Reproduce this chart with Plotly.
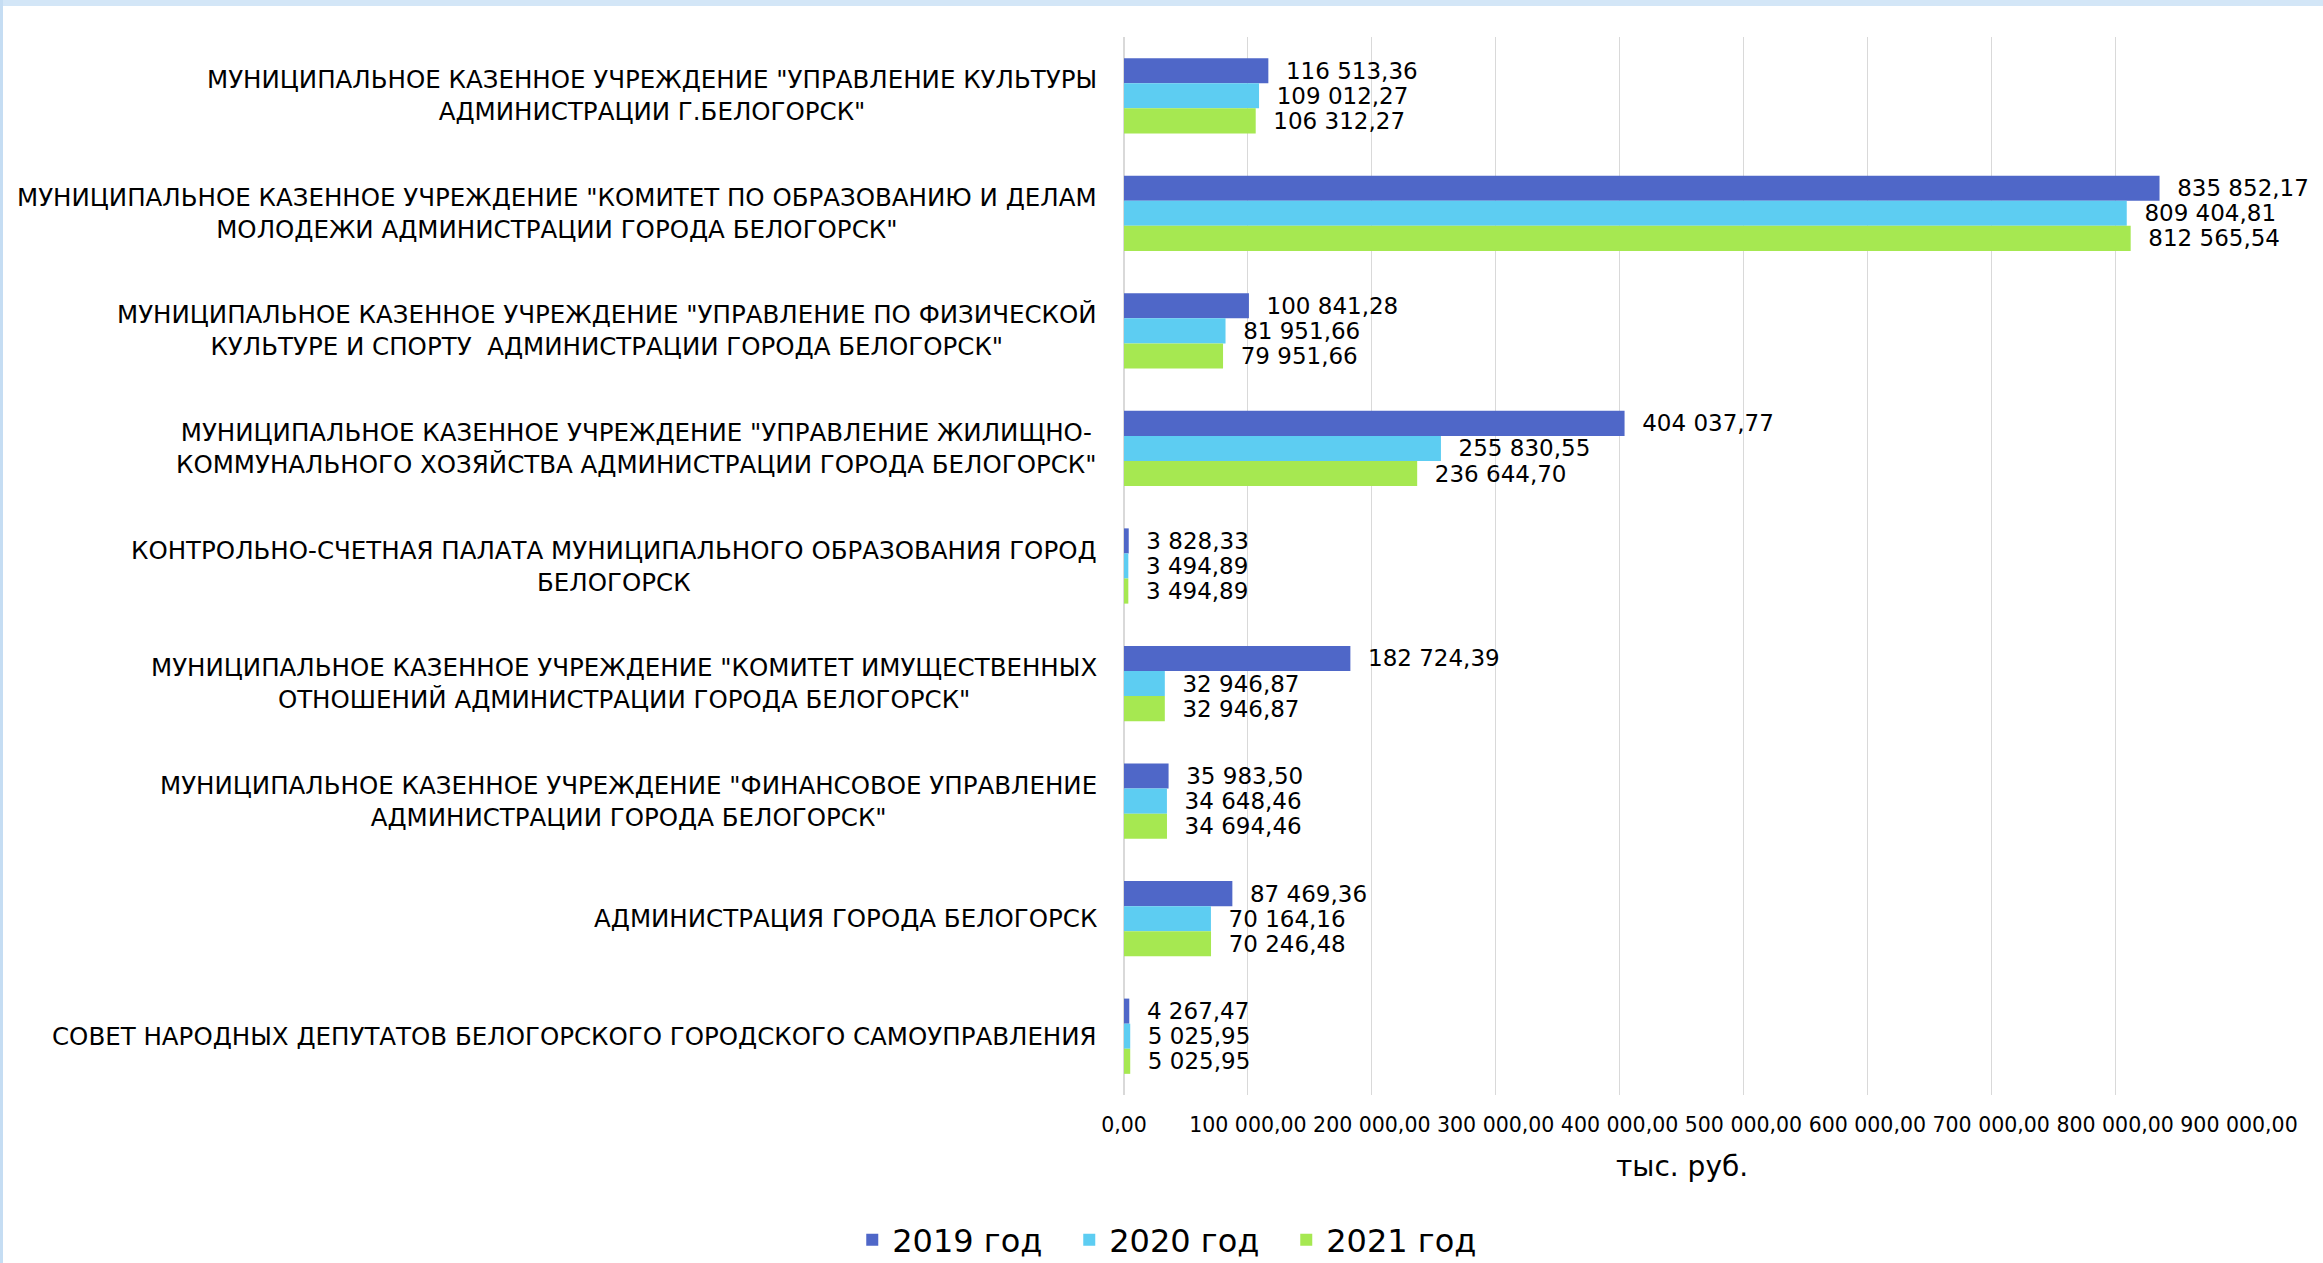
import plotly.graph_objects as go

categories = [
    'МУНИЦИПАЛЬНОЕ КАЗЕННОЕ УЧРЕЖДЕНИЕ "УПРАВЛЕНИЕ КУЛЬТУРЫ<br>АДМИНИСТРАЦИИ Г.БЕЛОГОРСК"',
    'МУНИЦИПАЛЬНОЕ КАЗЕННОЕ УЧРЕЖДЕНИЕ "КОМИТЕТ ПО ОБРАЗОВАНИЮ И ДЕЛАМ<br>МОЛОДЕЖИ АДМИНИСТРАЦИИ ГОРОДА БЕЛОГОРСК"',
    'МУНИЦИПАЛЬНОЕ КАЗЕННОЕ УЧРЕЖДЕНИЕ "УПРАВЛЕНИЕ ПО ФИЗИЧЕСКОЙ<br>КУЛЬТУРЕ И СПОРТУ  АДМИНИСТРАЦИИ ГОРОДА БЕЛОГОРСК"',
    'МУНИЦИПАЛЬНОЕ КАЗЕННОЕ УЧРЕЖДЕНИЕ "УПРАВЛЕНИЕ ЖИЛИЩНО-<br>КОММУНАЛЬНОГО ХОЗЯЙСТВА АДМИНИСТРАЦИИ ГОРОДА БЕЛОГОРСК"',
    'КОНТРОЛЬНО-СЧЕТНАЯ ПАЛАТА МУНИЦИПАЛЬНОГО ОБРАЗОВАНИЯ ГОРОД<br>БЕЛОГОРСК',
    'МУНИЦИПАЛЬНОЕ КАЗЕННОЕ УЧРЕЖДЕНИЕ "КОМИТЕТ ИМУЩЕСТВЕННЫХ<br>ОТНОШЕНИЙ АДМИНИСТРАЦИИ ГОРОДА БЕЛОГОРСК"',
    'МУНИЦИПАЛЬНОЕ КАЗЕННОЕ УЧРЕЖДЕНИЕ "ФИНАНСОВОЕ УПРАВЛЕНИЕ<br>АДМИНИСТРАЦИИ ГОРОДА БЕЛОГОРСК"',
    'АДМИНИСТРАЦИЯ ГОРОДА БЕЛОГОРСК',
    'СОВЕТ НАРОДНЫХ ДЕПУТАТОВ БЕЛОГОРСКОГО ГОРОДСКОГО САМОУПРАВЛЕНИЯ',
]

values_2019 = [116513.36, 835852.17, 100841.28, 404037.77, 3828.33, 182724.39, 35983.50, 87469.36, 4267.47]
values_2020 = [109012.27, 809404.81, 81951.66, 255830.55, 3494.89, 32946.87, 34648.46, 70164.16, 5025.95]
values_2021 = [106312.27, 812565.54, 79951.66, 236644.70, 3494.89, 32946.87, 34694.46, 70246.48, 5025.95]

series_names = ["2019 год", "2020 год", "2021 год"]
tick_values = [0, 100000, 200000, 300000, 400000, 500000, 600000, 700000, 800000, 900000]

colors = ["#4F67C8", "#5DCDF2", "#A6E851"]
FONT = "DejaVu Sans, sans-serif"


def fmt(v):
    s = f"{v:,.2f}"
    return s.replace(",", " ").replace(".", ",")


W, H = 2323, 1263
L, R, T, B = 1124, 84, 37, 168
plot_w = W - L - R
plot_h = H - T - B

fig = go.Figure()
for name, vals, col in zip(series_names, [values_2019, values_2020, values_2021], colors):
    fig.add_trace(go.Bar(
        y=categories, x=vals, name=name, orientation="h",
        marker=dict(color=col, line=dict(width=0)),
        text=["\u00a0\u00a0" + fmt(v) for v in vals], textposition="outside",
        textfont=dict(size=23, color="#000000", family=FONT),
        constraintext="none", cliponaxis=False,
    ))

annotations = []
for c in categories:
    annotations.append(dict(
        x=-(25 / plot_w), xref="paper", y=c, yref="y",
        text=c, showarrow=False, xanchor="right", yanchor="middle", align="center",
        font=dict(size=24.5, color="#000000", family=FONT),
    ))
annotations.append(dict(
    x=0.5, xref="paper", y=-(1166 - (H - B)) / plot_h, yref="paper",
    text="тыс. руб.", showarrow=False, xanchor="center", yanchor="middle",
    font=dict(size=28, color="#000000", family=FONT),
))

fig.update_layout(
    width=W, height=H,
    margin=dict(l=L, r=R, t=T, b=B),
    paper_bgcolor="white", plot_bgcolor="white",
    barmode="group", bargap=0.36, bargroupgap=0,
    font=dict(family=FONT, color="#000000"),
    showlegend=True,
    legend=dict(orientation="h", x=0.507, xanchor="center", xref="container",
                y=1 - 1240 / H, yref="container", yanchor="middle",
                font=dict(size=32, family=FONT, color="#000000"),
                traceorder="normal", itemwidth=30,
                entrywidth=172, entrywidthmode="pixels"),
    annotations=annotations,
    shapes=[
        dict(type="rect", xref="paper", yref="paper", x0=-L / plot_w, x1=1 + R / plot_w,
             y0=1 + (T - 6) / plot_h, y1=1 + T / plot_h, fillcolor="#D3E6F7", line=dict(width=0), layer="below"),
        dict(type="rect", xref="paper", yref="paper", x0=-L / plot_w, x1=-(L - 3) / plot_w,
             y0=-B / plot_h, y1=1 + T / plot_h, fillcolor="#C5DDF3", line=dict(width=0), layer="below"),
    ],
)
fig.update_xaxes(
    range=[0, 900000], tickvals=tick_values, ticktext=[fmt(v) for v in tick_values],
    showgrid=True, gridcolor="#D9D9D9", gridwidth=1, zeroline=True, zerolinecolor="#D9D9D9",
    showline=False, ticks="", ticklabelstandoff=15,
    tickfont=dict(size=20.5, family=FONT, color="#000000"),
)
fig.update_yaxes(
    type="category", autorange="reversed", showticklabels=False, showgrid=False,
    zeroline=False, showline=False, ticks="",
)

fig.write_html("out.html", config={"displayModeBar": False},
               post_script="document.body.style.margin='0px';")
